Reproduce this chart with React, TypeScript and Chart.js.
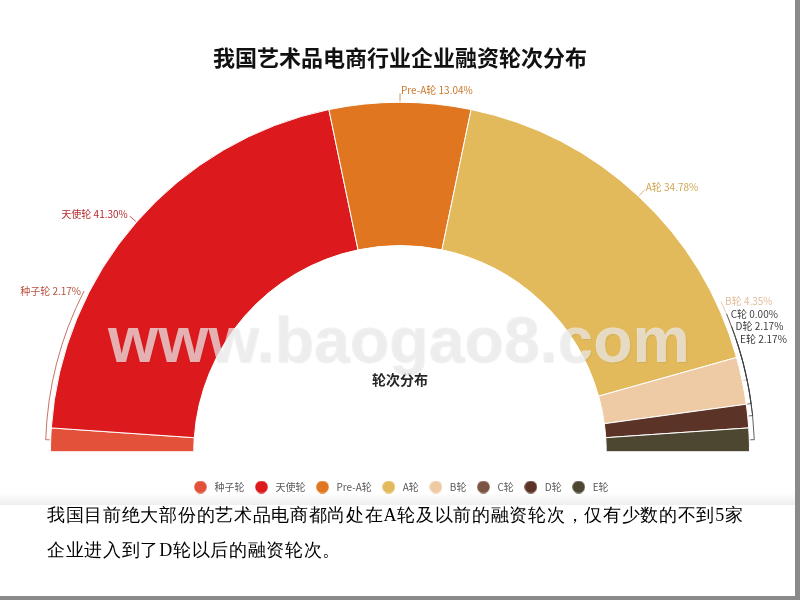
import { useEffect, useRef } from "react";
import { Chart, registerables } from "chart.js";

Chart.register(...registerables);

const TITLE = "我国艺术品电商行业企业融资轮次分布";
const CENTER_LABEL = "轮次分布";
const WATERMARK = "www.baogao8.com";
const categories = ["种子轮", "天使轮", "Pre-A轮", "A轮", "B轮", "C轮", "D轮", "E轮"];
const shares = [2.17, 41.3, 13.04, 34.78, 4.35, 0.0, 2.17, 2.17];
const noteLines = [
  "我国目前绝大部份的艺术品电商都尚处在A轮及以前的融资轮次，仅有少数的不到5家",
  "企业进入到了D轮以后的融资轮次。",
];

const SLICE_COLORS = ["#E3513A", "#DC1A1E", "#E0761F", "#E2B95B", "#EFCBA5", "#7C5444", "#5B3427", "#4D4631"];
const LABEL_COLORS = ["#B8503E", "#B52A2C", "#C9782E", "#CFA553", "#E2BE9A", "#444444", "#3A3A3A", "#3A3A3A"];
const FONT = '"Noto Sans CJK SC", "Noto Sans", sans-serif';

function makeMarker(color: string): HTMLCanvasElement {
  const cv = document.createElement("canvas");
  cv.width = 13;
  cv.height = 13;
  const c = cv.getContext("2d")!;
  c.fillStyle = color;
  c.beginPath();
  c.arc(6.5, 6.5, 6.3, 0, Math.PI * 2);
  c.fill();
  return cv;
}

const sliceLabelPlugin = {
  id: "sliceLabels",
  afterDatasetsDraw(chart: any) {
    const meta = chart.getDatasetMeta(0);
    const ctx = chart.ctx as CanvasRenderingContext2D;
    ctx.save();
    ctx.font = `10px ${FONT}`;
    ctx.textBaseline = "middle";
    ctx.lineWidth = 0.8;
    let rightIndex = 0;
    meta.data.forEach((el: any, i: number) => {
      const { x: cx, y: cy, startAngle, endAngle, outerRadius: r } = el.getProps(
        ["x", "y", "startAngle", "endAngle", "outerRadius"],
        true
      );
      const mid = (startAngle + endAngle) / 2;
      const value = shares[i];
      const text = `${categories[i]} ${value.toFixed(2)}%`;
      const color = LABEL_COLORS[i];
      ctx.strokeStyle = color;
      ctx.fillStyle = color;
      const onRight = Math.cos(mid) > -1e-6;
      if (value >= 5) {
        const c = Math.cos(mid);
        const s = Math.sin(mid);
        ctx.beginPath();
        ctx.moveTo(cx + (r + 1) * c, cy + (r + 1) * s);
        ctx.lineTo(cx + (r + 9) * c, cy + (r + 9) * s);
        ctx.stroke();
        const tx = cx + (r + 9) * c;
        const ty = cy + (r + 12) * s;
        ctx.textAlign = onRight ? "left" : "right";
        ctx.fillText(text, tx + (onRight ? 1 : -2), ty);
      } else {
        const R = r + 5;
        const ty = onRight ? cy - 0.43 * r + rightIndex++ * 12.5 : cy - 0.46 * r;
        const sn = Math.max(-1, Math.min(1, (ty - cy) / R));
        const a = onRight ? Math.asin(sn) : -Math.PI - Math.asin(sn);
        const ax = cx + R * Math.cos(a);
        const ay = cy + R * Math.sin(a);
        ctx.beginPath();
        ctx.moveTo(ax, ay);
        ctx.arc(cx, cy, R, a, mid, !onRight);
        ctx.lineTo(cx + (r + 1) * Math.cos(mid), cy + (r + 1) * Math.sin(mid));
        ctx.stroke();
        ctx.textAlign = onRight ? "left" : "right";
        ctx.fillText(text, ax + (onRight ? 4 : -3), ty);
      }
    });
    ctx.restore();
  },
  afterDraw(chart: any) {
    const el = chart.getDatasetMeta(0).data[0];
    if (!el) return;
    const { x, y, innerRadius } = el.getProps(["x", "y", "innerRadius"], true);
    const ctx = chart.ctx as CanvasRenderingContext2D;
    ctx.save();
    ctx.font = `bold 14px ${FONT}`;
    ctx.fillStyle = "#262626";
    ctx.textAlign = "center";
    ctx.textBaseline = "middle";
    ctx.fillText(CENTER_LABEL, x, y - innerRadius * 0.35);
    ctx.restore();
  },
};

export default function App() {
  const canvasRef = useRef<HTMLCanvasElement | null>(null);

  useEffect(() => {
    const canvas = canvasRef.current;
    if (!canvas) return;
    const markers = SLICE_COLORS.map(makeMarker);
    const baseGenerate = (Chart as any).overrides.doughnut.plugins.legend.labels.generateLabels;
    const chart = new Chart(canvas, {
      type: "doughnut",
      data: {
        labels: categories,
        datasets: [
          {
            data: shares,
            backgroundColor: SLICE_COLORS,
            borderColor: "#ffffff",
            borderWidth: 1,
          },
        ],
      },
      options: {
        responsive: false,
        animation: false,
        rotation: -90,
        circumference: 180,
        cutout: "59%",
        layout: { padding: { left: 50, right: 45, top: 0, bottom: 8 } },
        plugins: {
          title: {
            display: true,
            text: TITLE,
            color: "#111111",
            font: { size: 22, weight: "bold", family: FONT },
            padding: { top: 44, bottom: 9.6 },
          },
          legend: {
            position: "bottom",
            labels: {
              usePointStyle: true,
              pointStyleWidth: 18,
              boxHeight: 10,
              padding: 8,
              color: "#595959",
              font: { size: 10, family: FONT },
              generateLabels: (ch: any) =>
                baseGenerate(ch).map((it: any, i: number) => ({ ...it, pointStyle: markers[i] })),
            },
          },
          tooltip: { enabled: false },
        },
      },
      plugins: [sliceLabelPlugin],
    } as any);
    return () => chart.destroy();
  }, []);

  return (
    <div
      style={{
        position: "fixed",
        left: 0,
        top: 0,
        width: 800,
        height: 600,
        background: "#8a8a8a",
        overflow: "hidden",
      }}
    >
      <div style={{ position: "absolute", left: 0, top: 0, width: 795, height: 596, background: "#ffffff" }}>
        <canvas ref={canvasRef} width={795} height={510} style={{ position: "absolute", left: 0, top: 0 }} />
        <div
          style={{
            position: "absolute",
            left: 0,
            top: 493,
            width: 795,
            height: 12,
            background: "linear-gradient(to bottom, rgba(238,238,238,0), rgba(238,238,238,1))",
          }}
        />
        <div
          style={{
            position: "absolute",
            left: 0,
            top: 308,
            width: 798,
            textAlign: "center",
            font: 'bold 64.5px "Liberation Sans", Arial, sans-serif',
            lineHeight: "64px",
            color: "rgba(235,235,235,0.72)",
            textShadow: "1px 1px 1px rgba(0,0,0,0.06)",
            whiteSpace: "nowrap",
            pointerEvents: "none",
          }}
        >
          {WATERMARK}
        </div>
        <div
          style={{
            position: "absolute",
            left: 47,
            top: 497.5,
            fontFamily: "serif",
            fontSize: 18,
            letterSpacing: "0.7px",
            lineHeight: "35px",
            color: "#000000",
            whiteSpace: "nowrap",
          }}
        >
          {noteLines.map((l, i) => (
            <div key={i}>{l}</div>
          ))}
        </div>
      </div>
    </div>
  );
}
